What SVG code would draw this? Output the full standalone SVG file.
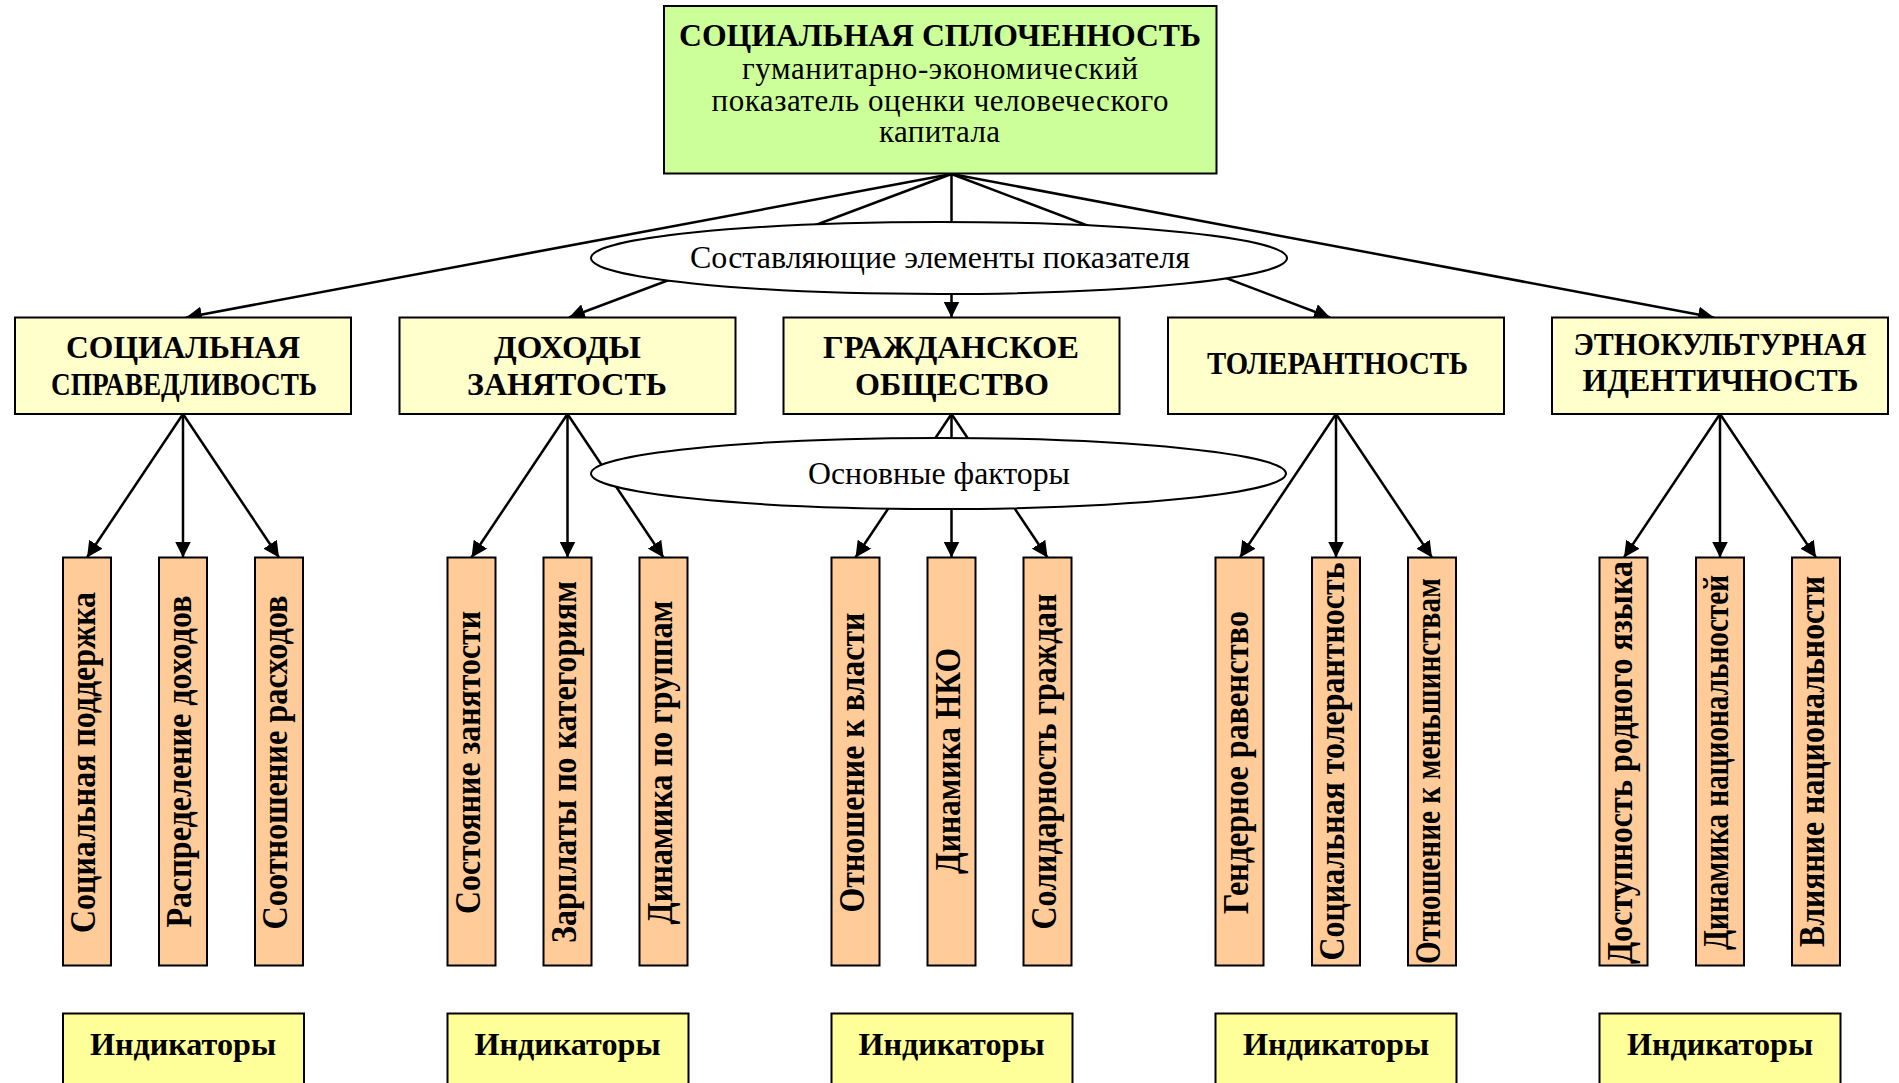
<svg xmlns="http://www.w3.org/2000/svg" width="1899" height="1083" viewBox="0 0 1899 1083">
<style>
  .box { stroke: #000; stroke-width: 2; }
  .top { fill: #ccff99; }
  .l2 { fill: #ffffcc; }
  .tall { fill: #ffcc99; }
  .ind { fill: #ffff99; }
  .ell { fill: #fff; stroke: #000; stroke-width: 2; }
  .conn line { stroke: #000; stroke-width: 2.5; marker-end: url(#ah); }
  .conn line.plain { marker-end: none; }
  text { font-family: "Liberation Serif", "Times New Roman", serif; fill: #000; text-anchor: middle; }
  .b { font-weight: bold; font-size: 32px; }
  .r { font-size: 31px; }
  .v { font-weight: bold; font-size: 35px; }
</style>
<defs>
  <marker id="ah" viewBox="0 0 16 16" refX="16" refY="8" markerWidth="16" markerHeight="16" markerUnits="userSpaceOnUse" orient="auto">
    <path d="M0,0 L16,8 L0,16 z" fill="#000"/>
  </marker>
</defs>
<rect width="1899" height="1083" fill="#fff"/>

<g id="connectors" class="conn">
  <line x1="951.5" y1="174" x2="186" y2="317.5"/>
  <line x1="951.5" y1="174" x2="569" y2="317.5"/>
  <line x1="951.5" y1="174" x2="951.5" y2="317.5"/>
  <line x1="951.5" y1="174" x2="1330" y2="317.5"/>
  <line x1="951.5" y1="174" x2="1714" y2="317.5"/>

  <line x1="183" y1="414" x2="87" y2="557.5"/>
  <line x1="183" y1="414" x2="183" y2="557.5"/>
  <line x1="183" y1="414" x2="279" y2="557.5"/>

  <line x1="567.5" y1="414" x2="471.5" y2="557.5"/>
  <line x1="567.5" y1="414" x2="567.5" y2="557.5"/>
  <line x1="567.5" y1="414" x2="663.5" y2="557.5"/>

  <line x1="951.5" y1="414" x2="855.5" y2="557.5"/>
  <line x1="951.5" y1="414" x2="951.5" y2="557.5"/>
  <line x1="951.5" y1="414" x2="1047.5" y2="557.5"/>

  <line x1="1336" y1="414" x2="1240" y2="557.5"/>
  <line x1="1336" y1="414" x2="1336" y2="557.5"/>
  <line x1="1336" y1="414" x2="1432" y2="557.5"/>

  <line x1="1720" y1="414" x2="1624" y2="557.5"/>
  <line x1="1720" y1="414" x2="1720" y2="557.5"/>
  <line x1="1720" y1="414" x2="1816" y2="557.5"/>
</g>

<g id="root">
  <rect class="box top" x="664" y="6" width="552.5" height="167.5"/>
  <text class="b" x="940" y="46" font-size="31" textLength="522" lengthAdjust="spacingAndGlyphs">СОЦИАЛЬНАЯ СПЛОЧЕННОСТЬ</text>
  <text class="r" x="940" y="79" font-size="30" textLength="396" lengthAdjust="spacing">гуманитарно-экономический</text>
  <text class="r" x="940" y="110.5" font-size="30" textLength="457" lengthAdjust="spacing">показатель оценки человеческого</text>
  <text class="r" x="939.5" y="142" font-size="30" textLength="121" lengthAdjust="spacing">капитала</text>
</g>

<g id="label-elements">
  <ellipse class="ell" cx="939" cy="258" rx="348" ry="36"/>
  <text class="r" x="940" y="268" font-size="32" textLength="500" lengthAdjust="spacingAndGlyphs">Составляющие элементы показателя</text>
</g>

<g id="n-sprav">
  <rect class="box l2" x="15" y="317.5" width="336" height="96.5"/>
  <text class="b" x="183" y="358" textLength="234" lengthAdjust="spacingAndGlyphs">СОЦИАЛЬНАЯ</text>
  <text class="b" x="184" y="395" textLength="266" lengthAdjust="spacingAndGlyphs">СПРАВЕДЛИВОСТЬ</text>
</g>
<g id="n-dohody">
  <rect class="box l2" x="399.5" y="317.5" width="336" height="96.5"/>
  <text class="b" x="567.5" y="358" textLength="147" lengthAdjust="spacingAndGlyphs">ДОХОДЫ</text>
  <text class="b" x="567" y="395" textLength="200" lengthAdjust="spacingAndGlyphs">ЗАНЯТОСТЬ</text>
</g>
<g id="n-grazhd">
  <rect class="box l2" x="783.5" y="317.5" width="336" height="96.5"/>
  <text class="b" x="951" y="358" textLength="256" lengthAdjust="spacingAndGlyphs">ГРАЖДАНСКОЕ</text>
  <text class="b" x="952" y="395" textLength="194" lengthAdjust="spacingAndGlyphs">ОБЩЕСТВО</text>
</g>
<g id="n-toler">
  <rect class="box l2" x="1168" y="317.5" width="336" height="96.5"/>
  <text class="b" x="1337.5" y="373.5" textLength="261" lengthAdjust="spacingAndGlyphs">ТОЛЕРАНТНОСТЬ</text>
</g>
<g id="n-etno">
  <rect class="box l2" x="1552" y="317.5" width="336" height="96.5"/>
  <text class="b" x="1720" y="355" textLength="293" lengthAdjust="spacingAndGlyphs">ЭТНОКУЛЬТУРНАЯ</text>
  <text class="b" x="1720.5" y="391" textLength="276" lengthAdjust="spacingAndGlyphs">ИДЕНТИЧНОСТЬ</text>
</g>

<g id="label-factors">
  <ellipse class="ell" cx="938.5" cy="473.5" rx="347.5" ry="35.5"/>
  <text class="r" x="939" y="483.5" textLength="262" lengthAdjust="spacingAndGlyphs">Основные факторы</text>
</g>

<g id="f1-1"><rect class="box tall" x="63" y="557.5" width="48" height="408"/>
  <text class="v" transform="translate(95,762.5) rotate(-90)" textLength="341" lengthAdjust="spacingAndGlyphs">Социальная поддержка</text></g>
<g id="f1-2"><rect class="box tall" x="159" y="557.5" width="48" height="408"/>
  <text class="v" transform="translate(191,761.5) rotate(-90)" textLength="332" lengthAdjust="spacingAndGlyphs">Распределение доходов</text></g>
<g id="f1-3"><rect class="box tall" x="255" y="557.5" width="48" height="408"/>
  <text class="v" transform="translate(287,762.5) rotate(-90)" textLength="334" lengthAdjust="spacingAndGlyphs">Соотношение расходов</text></g>

<g id="f2-1"><rect class="box tall" x="447.5" y="557.5" width="48" height="408"/>
  <text class="v" transform="translate(479.5,762.5) rotate(-90)" textLength="303" lengthAdjust="spacingAndGlyphs">Состояние занятости</text></g>
<g id="f2-2"><rect class="box tall" x="543.5" y="557.5" width="48" height="408"/>
  <text class="v" transform="translate(575.5,762) rotate(-90)" textLength="362" lengthAdjust="spacingAndGlyphs">Зарплаты по категориям</text></g>
<g id="f2-3"><rect class="box tall" x="639.5" y="557.5" width="48" height="408"/>
  <text class="v" transform="translate(671.5,762.5) rotate(-90)" textLength="324" lengthAdjust="spacingAndGlyphs">Динамика по группам</text></g>

<g id="f3-1"><rect class="box tall" x="831.5" y="557.5" width="48" height="408"/>
  <text class="v" transform="translate(863.5,762.5) rotate(-90)" textLength="300" lengthAdjust="spacingAndGlyphs">Отношение к власти</text></g>
<g id="f3-2"><rect class="box tall" x="927.5" y="557.5" width="48" height="408"/>
  <text class="v" transform="translate(959.5,761) rotate(-90)" textLength="226" lengthAdjust="spacingAndGlyphs">Динамика НКО</text></g>
<g id="f3-3"><rect class="box tall" x="1023.5" y="557.5" width="48" height="408"/>
  <text class="v" transform="translate(1055.5,761.5) rotate(-90)" textLength="336" lengthAdjust="spacingAndGlyphs">Солидарность граждан</text></g>

<g id="f4-1"><rect class="box tall" x="1215.5" y="557.5" width="48" height="408"/>
  <text class="v" transform="translate(1247.5,762.5) rotate(-90)" textLength="303" lengthAdjust="spacingAndGlyphs">Гендерное равенство</text></g>
<g id="f4-2"><rect class="box tall" x="1312" y="557.5" width="48" height="408"/>
  <text class="v" transform="translate(1344,761.5) rotate(-90)" textLength="398" lengthAdjust="spacingAndGlyphs">Социальная толерантность</text></g>
<g id="f4-3"><rect class="box tall" x="1408" y="557.5" width="48" height="408"/>
  <text class="v" transform="translate(1440,771) rotate(-90)" textLength="386" lengthAdjust="spacingAndGlyphs">Отношение к меньшинствам</text></g>

<g id="f5-1"><rect class="box tall" x="1599.5" y="557.5" width="48" height="408"/>
  <text class="v" transform="translate(1631.5,762.5) rotate(-90)" textLength="403" lengthAdjust="spacingAndGlyphs">Доступность родного языка</text></g>
<g id="f5-2"><rect class="box tall" x="1696" y="557.5" width="48" height="408"/>
  <text class="v" transform="translate(1728,762.5) rotate(-90)" textLength="375" lengthAdjust="spacingAndGlyphs">Динамика национальностей</text></g>
<g id="f5-3"><rect class="box tall" x="1792" y="557.5" width="48" height="408"/>
  <text class="v" transform="translate(1824,761.5) rotate(-90)" textLength="371" lengthAdjust="spacingAndGlyphs">Влияние национальности</text></g>

<g id="ind-1"><rect class="box ind" x="63" y="1013.5" width="241" height="80"/>
  <text class="b" x="183" y="1055" font-size="33" textLength="186" lengthAdjust="spacingAndGlyphs">Индикаторы</text></g>
<g id="ind-2"><rect class="box ind" x="447.5" y="1013.5" width="241" height="80"/>
  <text class="b" x="567.5" y="1055" font-size="33" textLength="186" lengthAdjust="spacingAndGlyphs">Индикаторы</text></g>
<g id="ind-3"><rect class="box ind" x="831.5" y="1013.5" width="241" height="80"/>
  <text class="b" x="951.5" y="1055" font-size="33" textLength="186" lengthAdjust="spacingAndGlyphs">Индикаторы</text></g>
<g id="ind-4"><rect class="box ind" x="1215.5" y="1013.5" width="241" height="80"/>
  <text class="b" x="1336" y="1055" font-size="33" textLength="186" lengthAdjust="spacingAndGlyphs">Индикаторы</text></g>
<g id="ind-5"><rect class="box ind" x="1599.5" y="1013.5" width="241" height="80"/>
  <text class="b" x="1720" y="1055" font-size="33" textLength="186" lengthAdjust="spacingAndGlyphs">Индикаторы</text></g>
</svg>
